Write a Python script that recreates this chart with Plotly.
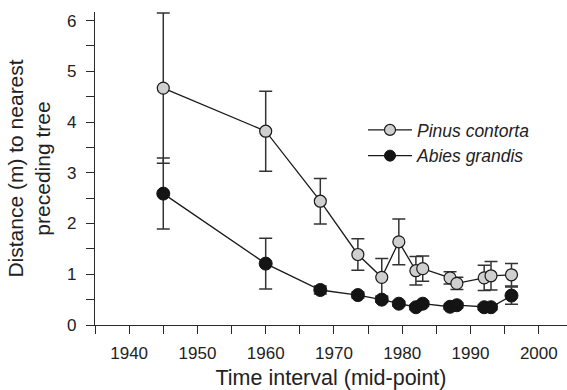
import plotly.graph_objects as go

# Data
years = [1945, 1960, 1968, 1973.5, 1977, 1979.5, 1982, 1983, 1987, 1988, 1992, 1993, 1996]
pinus = [4.67, 3.82, 2.44, 1.39, 0.94, 1.64, 1.07, 1.11, 0.93, 0.82, 0.93, 0.97, 0.99]
pinus_err = [1.48, 0.79, 0.45, 0.31, 0.37, 0.45, 0.28, 0.25, 0.12, 0.12, 0.25, 0.28, 0.22]
abies = [2.59, 1.21, 0.69, 0.59, 0.50, 0.42, 0.35, 0.42, 0.36, 0.39, 0.35, 0.35, 0.58]
abies_err = [0.70, 0.50, 0.08, 0.06, 0.05, 0.05, 0.05, 0.05, 0.05, 0.05, 0.05, 0.05, 0.17]
names = ["Pinus contorta", "Abies grandis"]
x_ticks = [1940, 1950, 1960, 1970, 1980, 1990, 2000]
y_ticks = [0, 1, 2, 3, 4, 5, 6]

FONT = "Liberation Sans, Arial, Helvetica, sans-serif"
AX = "#2a2a2a"

fig = go.Figure()

fig.add_trace(go.Scatter(
    x=years, y=pinus, mode="lines+markers", showlegend=False,
    line=dict(color="#1a1a1a", width=1.3),
    marker=dict(size=12, color="#cfcfcf", line=dict(color="#1a1a1a", width=1.2)),
    error_y=dict(type="data", array=pinus_err, visible=True, color="#333333",
                 thickness=1.5, width=6.5),
))
fig.add_trace(go.Scatter(
    x=years, y=abies, mode="lines+markers", showlegend=False,
    line=dict(color="#1a1a1a", width=1.3),
    marker=dict(size=13, color="#141414", line=dict(color="#141414", width=1)),
    error_y=dict(type="data", array=abies_err, visible=True, color="#333333",
                 thickness=1.5, width=6.5),
))

# legend entries
fig.add_trace(go.Scatter(
    x=[None], y=[None], mode="lines+markers", name=names[0],
    line=dict(color="#1a1a1a", width=1.3),
    marker=dict(size=11, color="#cfcfcf", line=dict(color="#1a1a1a", width=1.2)),
))
fig.add_trace(go.Scatter(
    x=[None], y=[None], mode="lines+markers", name=names[1],
    line=dict(color="#1a1a1a", width=1.3),
    marker=dict(size=11, color="#141414", line=dict(color="#141414", width=1)),
))

fig.update_layout(
    width=567, height=390,
    margin=dict(l=95, r=0, t=12, b=65),
    paper_bgcolor="white", plot_bgcolor="white",
    font=dict(family=FONT, color="#222222", size=17),
    legend=dict(
        x=(363 - 95) / 472, y=(390 - 65 - 112) / 313, xanchor="left", yanchor="top",
        bgcolor="rgba(0,0,0,0)", itemwidth=44,
        font=dict(family=FONT, size=17.5, style="italic", color="#222222"),
        tracegroupgap=0,
    ),
    xaxis=dict(
        range=[1935, 2004.13], tickmode="array", tickvals=x_ticks,
        ticktext=[str(v) for v in x_ticks],
        showgrid=False, zeroline=False, showline=True, linecolor=AX, linewidth=1.4,
        ticks="outside", ticklen=8, tickwidth=1.4, tickcolor=AX,
        tickfont=dict(size=17), ticklabelstandoff=4,
        minor=dict(dtick=5, tick0=1935, ticks="outside", ticklen=8, tickwidth=1.4,
                   tickcolor=AX, showgrid=False),
        title=dict(text="Time interval (mid-point)", font=dict(size=21.5), standoff=8),
    ),
    yaxis=dict(
        range=[0, 6.17], tickmode="array", tickvals=y_ticks,
        ticktext=[str(v) for v in y_ticks],
        showgrid=False, zeroline=False, showline=True, linecolor=AX, linewidth=1.4,
        ticks="outside", ticklen=8, tickwidth=1.4, tickcolor=AX,
        tickfont=dict(size=17), ticklabelstandoff=6,
        minor=dict(dtick=0.5, tick0=0, ticks="outside", ticklen=8, tickwidth=1.4,
                   tickcolor=AX, showgrid=False),
        title=dict(text="Distance (m) to nearest<br>preceding tree",
                   font=dict(size=21), standoff=10),
    ),
)

fig.write_html("out.html")
